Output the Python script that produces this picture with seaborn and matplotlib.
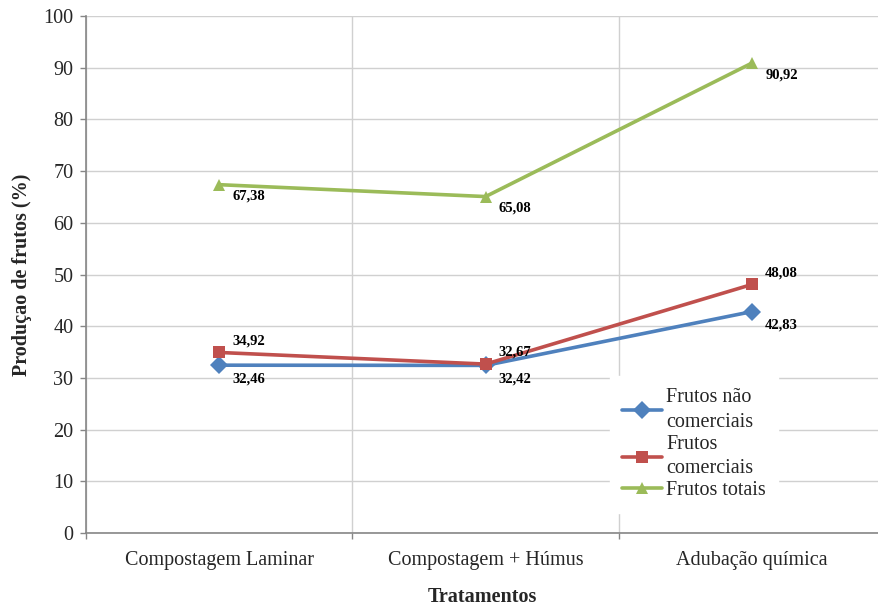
import pandas as pd
import numpy as np
import matplotlib.pyplot as plt
import seaborn as sns

# Dados do gráfico
tratamentos = ['Compostagem Laminar', 'Compostagem + Húmus', 'Adubação química']
nao_comerciais = [32.46, 32.42, 42.83]
comerciais = [34.92, 32.67, 48.08]
totais = [67.38, 65.08, 90.92]

series = ['Frutos não\ncomerciais', 'Frutos\ncomerciais', 'Frutos totais']
cores = ['#4F81BD', '#C0504D', '#9BBB59']
marcadores = ['D', 's', '^']

rows = []
for nome, valores in zip(series, [nao_comerciais, comerciais, totais]):
    for i, v in enumerate(valores):
        rows.append({'x': i, 'Tratamento': tratamentos[i], 'valor': v, 'serie': nome})
df = pd.DataFrame(rows)

sns.set_theme(style='white')
plt.rcParams['font.family'] = ['Liberation Serif', 'DejaVu Serif']

fig = plt.figure(figsize=(8.79, 6.06), dpi=100)
ax = fig.add_axes([86 / 879, 0.1205, 0.902, 0.853])

sns.lineplot(data=df, x='x', y='valor', hue='serie', style='serie',
             palette=dict(zip(series, cores)), markers=dict(zip(series, marcadores)),
             dashes=False, linewidth=2.6, markersize=9, markeredgewidth=0, ax=ax)

# Rótulos de dados
offsets = {series[0]: (9.5, -10), series[1]: (9.5, 8.5), series[2]: (9.5, -8.5)}
for nome, valores in zip(series, [nao_comerciais, comerciais, totais]):
    for i, v in enumerate(valores):
        dx, dy = offsets[nome]
        ax.annotate(f'{v:.2f}'.replace('.', ','), (i, v), xytext=(dx, dy),
                    textcoords='offset points', fontsize=10.5, fontweight='bold',
                    ha='left', va='center', color='black')

ax.set_xlim(-0.5, 2.476)
ax.set_ylim(0, 100)
ax.set_yticks(np.arange(0, 101, 10))
ax.set_xticks(range(3))
ax.set_xticklabels(tratamentos, fontsize=14.5)
ax.set_xticks([-0.5, 0.5, 1.5], minor=True)
ax.tick_params(axis='y', labelsize=14.5, length=4, width=1, color='#868686', left=True,
               direction='out', pad=5)
ax.tick_params(axis='x', which='major', length=0, pad=13)
ax.tick_params(axis='x', which='minor', length=4, width=1, color='#868686', bottom=True, direction='out')

ax.grid(True, axis='y', color='#d0d0d0', linewidth=1)
ax.grid(True, axis='x', which='minor', color='#d0d0d0', linewidth=1)
ax.set_axisbelow(True)

for s in ['top', 'right']:
    ax.spines[s].set_visible(False)
for s in ['left', 'bottom']:
    ax.spines[s].set_color('#868686')
    ax.spines[s].set_linewidth(1.2)

ax.set_xlabel('Tratamentos', fontsize=14.5, fontweight='bold', labelpad=12)
ax.set_ylabel('Produçao de frutos (%)', fontsize=14.5, fontweight='bold', labelpad=8)

leg = ax.legend(loc='lower left', bbox_to_anchor=(0.648, 0.02), fontsize=14.5,
                frameon=True, fancybox=False, framealpha=1, edgecolor='white',
                handlelength=2.0, handletextpad=0.2, labelspacing=0.15, borderpad=0.6)
leg.get_frame().set_facecolor('white')
for t in leg.get_texts():
    t.set_linespacing(1.4)

fig.savefig('out.png', dpi=100)
